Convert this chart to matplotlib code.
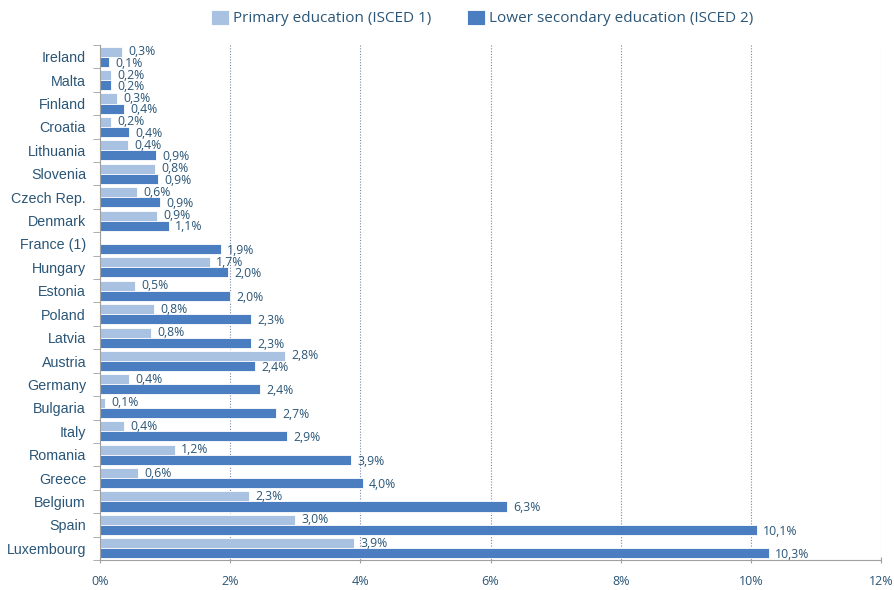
import matplotlib.pyplot as plt
import numpy as np

# 국가 (위에서 아래 순서)
countries = ['Ireland', 'Malta', 'Finland', 'Croatia', 'Lithuania', 'Slovenia',
             'Czech Rep.', 'Denmark', 'France (1)', 'Hungary', 'Estonia', 'Poland',
             'Latvia', 'Austria', 'Germany', 'Bulgaria', 'Italy', 'Romania',
             'Greece', 'Belgium', 'Spain', 'Luxembourg']

# ISCED 1 (France: no data)
primary = [0.34, 0.17, 0.26, 0.17, 0.43, 0.84, 0.57, 0.88, np.nan, 1.69, 0.54, 0.83,
           0.78, 2.84, 0.45, 0.08, 0.37, 1.15, 0.58, 2.29, 3.00, 3.90]
primary_labels = ['0,3%', '0,2%', '0,3%', '0,2%', '0,4%', '0,8%', '0,6%', '0,9%', '',
                  '1,7%', '0,5%', '0,8%', '0,8%', '2,8%', '0,4%', '0,1%', '0,4%',
                  '1,2%', '0,6%', '2,3%', '3,0%', '3,9%']

# ISCED 2
lower_sec = [0.14, 0.17, 0.37, 0.45, 0.86, 0.89, 0.92, 1.06, 1.86, 1.97, 2.00, 2.32,
             2.32, 2.38, 2.46, 2.70, 2.87, 3.86, 4.04, 6.25, 10.09, 10.28]
lower_sec_labels = ['0,1%', '0,2%', '0,4%', '0,4%', '0,9%', '0,9%', '0,9%', '1,1%',
                    '1,9%', '2,0%', '2,0%', '2,3%', '2,3%', '2,4%', '2,4%', '2,7%',
                    '2,9%', '3,9%', '4,0%', '6,3%', '10,1%', '10,3%']

x_ticks = [0, 2, 4, 6, 8, 10, 12]

light = '#A9C2E2'
dark = '#4A7EC0'
txt = '#2B5677'
axis_gray = '#A0A0A0'

fig = plt.figure(figsize=(8.94, 5.90), dpi=100)
ax = fig.add_axes([100 / 894, 30 / 590, 781 / 894, 515 / 590])

y = np.arange(len(countries))
h = 0.43
b1 = ax.barh(y - h / 2, primary, height=h, color=light, edgecolor='white', linewidth=0.6,
             label='Primary education (ISCED 1)')
b2 = ax.barh(y + h / 2, lower_sec, height=h, color=dark, edgecolor='white', linewidth=0.6,
             label='Lower secondary education (ISCED 2)')

# 데이터 레이블
for i in range(len(countries)):
    if primary_labels[i]:
        ax.annotate(primary_labels[i], (primary[i], y[i] - h / 2), xytext=(4.5, 0),
                    textcoords='offset points', va='center', ha='left',
                    fontsize=8.8, color=txt, family='Open Sans')
    ax.annotate(lower_sec_labels[i], (lower_sec[i], y[i] + h / 2), xytext=(4.5, -1),
                textcoords='offset points', va='center', ha='left',
                fontsize=8.8, color=txt, family='Open Sans')

ax.set_ylim(len(countries) - 0.5, -0.5)
ax.set_xlim(0, 12)

ax.set_yticks(y)
ax.set_yticklabels(countries, family='Liberation Sans', fontsize=10.3, color=txt)
ax.set_yticks(np.arange(-0.5, len(countries)), minor=True)
ax.tick_params(axis='y', which='major', length=0, pad=10)
ax.tick_params(axis='y', which='minor', length=5, direction='out', color=axis_gray)

ax.set_xticks(x_ticks)
ax.set_xticklabels([f'{t}%' for t in x_ticks], family='Open Sans', fontsize=9, color=txt)
ax.tick_params(axis='x', length=5, direction='inout', color=axis_gray, pad=8)

# 그리드
ax.grid(axis='x', color='#7A86A8', linestyle=(0, (1, 1.5)), linewidth=0.8)
ax.set_axisbelow(True)

for s in ['top', 'right']:
    ax.spines[s].set_visible(False)
ax.spines['left'].set_color(axis_gray)
ax.spines['bottom'].set_color(axis_gray)

# 범례
fig.legend(handles=[b1, b2], loc='center', bbox_to_anchor=(482 / 894, 1 - 18 / 590),
           ncol=2, frameon=False, handlelength=1.2, handleheight=1.2, handletextpad=0.25,
           columnspacing=2.3, prop={'family': 'Open Sans', 'size': 11},
           labelcolor=txt)

fig.savefig('out.png', dpi=100)
